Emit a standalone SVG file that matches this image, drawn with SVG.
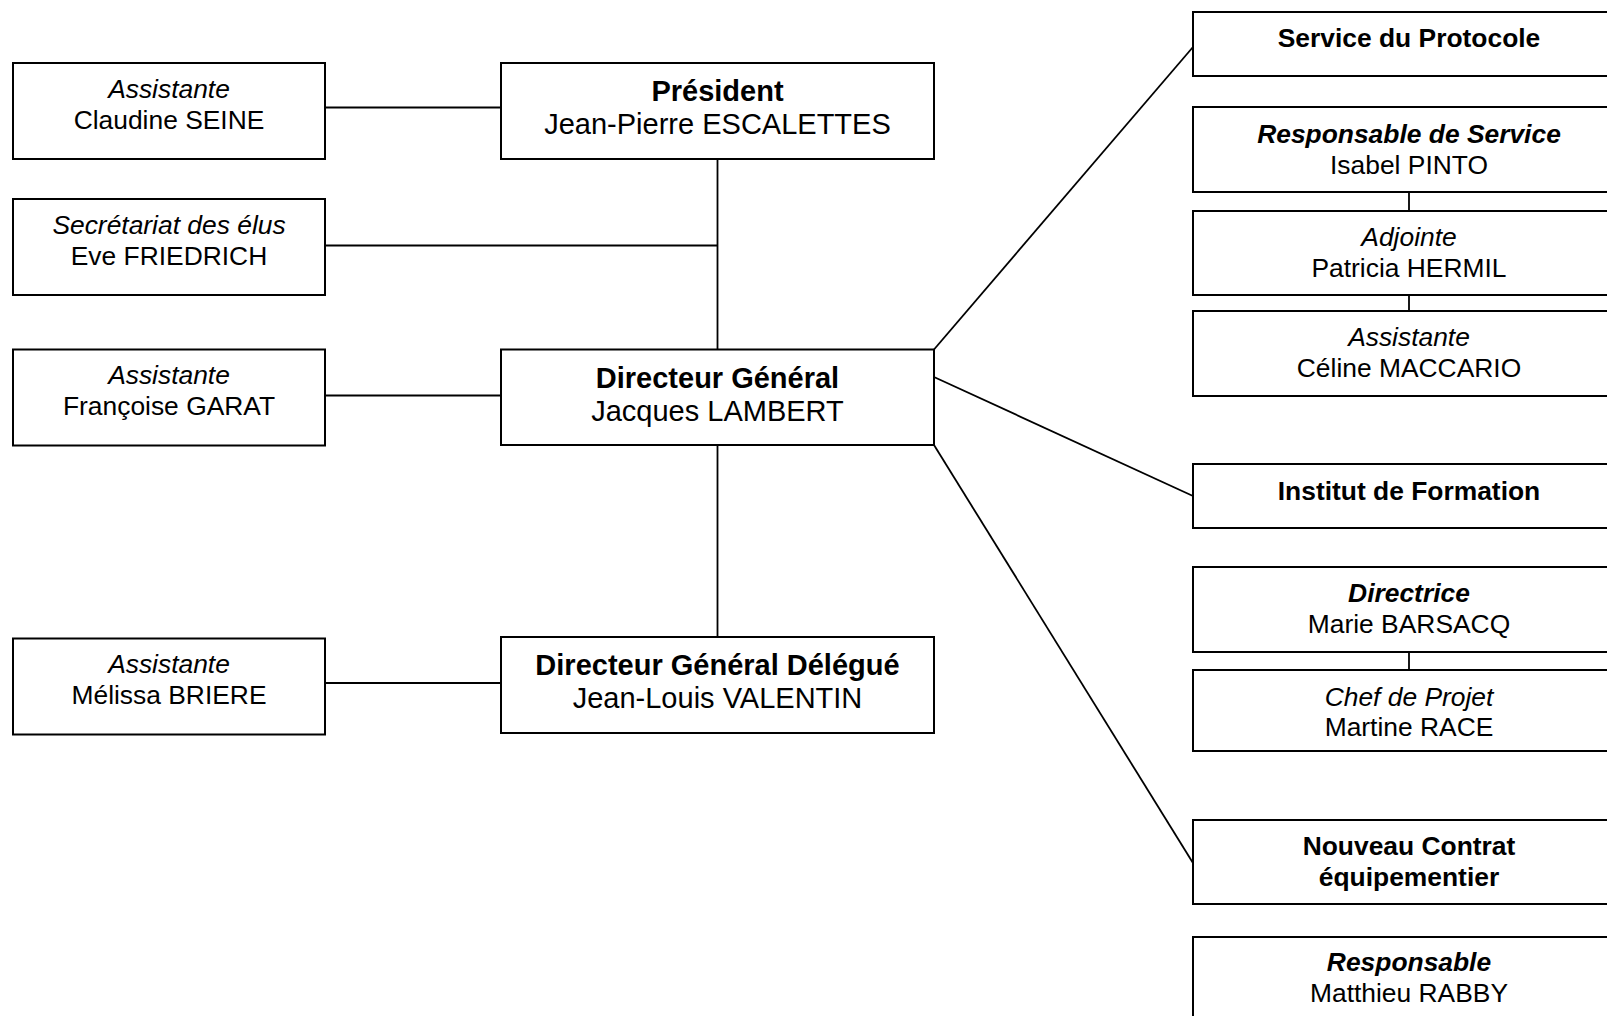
<svg xmlns="http://www.w3.org/2000/svg" width="1607" height="1016" viewBox="0 0 1607 1016">
<style>
.box{fill:#fff;stroke:#000;stroke-width:2}
.ln{stroke:#000;stroke-width:1.8;fill:none}
text{font-family:"Liberation Sans",Arial,sans-serif;fill:#000;text-anchor:middle}
.s{font-size:26.4px}
.c{font-size:29px}
.b{font-weight:bold}
.i{font-style:italic}
</style>
<rect width="1607" height="1016" fill="#fff"/>
<g id="connectors">
<line class="ln" x1="325" y1="107.5" x2="501" y2="107.5"/>
<line class="ln" x1="325" y1="245.5" x2="717.5" y2="245.5"/>
<line class="ln" x1="325" y1="395.5" x2="501" y2="395.5"/>
<line class="ln" x1="325" y1="683" x2="501" y2="683"/>
<line class="ln" x1="717.5" y1="159" x2="717.5" y2="349.5"/>
<line class="ln" x1="717.5" y1="445" x2="717.5" y2="637"/>
<line class="ln" x1="934" y1="349.5" x2="1193" y2="47"/>
<line class="ln" x1="934" y1="377" x2="1193" y2="496"/>
<line class="ln" x1="934" y1="445" x2="1193" y2="863"/>
<line class="ln" x1="1409" y1="192" x2="1409" y2="211"/>
<line class="ln" x1="1409" y1="295" x2="1409" y2="311"/>
<line class="ln" x1="1409" y1="652" x2="1409" y2="670"/>
</g>
<g id="n-assist-seine">
<rect class="box" x="13" y="63" width="312" height="96"/>
<text class="s i" x="169" y="97.5">Assistante</text>
<text class="s" x="169" y="129">Claudine SEINE</text>
</g>
<g id="n-secretariat">
<rect class="box" x="13" y="199" width="312" height="96"/>
<text class="s i" x="169" y="234">Secrétariat des élus</text>
<text class="s" x="169" y="265">Eve FRIEDRICH</text>
</g>
<g id="n-assist-garat">
<rect class="box" x="13" y="349.5" width="312" height="96"/>
<text class="s i" x="169" y="383.5">Assistante</text>
<text class="s" x="169" y="414.5">Françoise GARAT</text>
</g>
<g id="n-assist-briere">
<rect class="box" x="13" y="638.5" width="312" height="96"/>
<text class="s i" x="169" y="673">Assistante</text>
<text class="s" x="169" y="704">Mélissa BRIERE</text>
</g>
<g id="n-president">
<rect class="box" x="501" y="63" width="433" height="96"/>
<text class="c b" x="717.5" y="101">Président</text>
<text class="c" x="717.5" y="134">Jean-Pierre ESCALETTES</text>
</g>
<g id="n-dg">
<rect class="box" x="501" y="349.5" width="433" height="95.5"/>
<text class="c b" x="717.5" y="387.5">Directeur Général</text>
<text class="c" x="717.5" y="420.5">Jacques LAMBERT</text>
</g>
<g id="n-dgd">
<rect class="box" x="501" y="637" width="433" height="96"/>
<text class="c b" x="717.5" y="674.5">Directeur Général Délégué</text>
<text class="c" x="717.5" y="707.5">Jean-Louis VALENTIN</text>
</g>
<g id="n-protocole">
<rect class="box" x="1193" y="12" width="432" height="64"/>
<text class="s b" x="1409" y="46.5">Service du Protocole</text>
</g>
<g id="n-pinto">
<rect class="box" x="1193" y="107" width="432" height="85"/>
<text class="s b i" x="1409" y="143">Responsable de Service</text>
<text class="s" x="1409" y="173.5">Isabel PINTO</text>
</g>
<g id="n-hermil">
<rect class="box" x="1193" y="211" width="432" height="84"/>
<text class="s i" x="1409" y="246">Adjointe</text>
<text class="s" x="1409" y="276.5">Patricia HERMIL</text>
</g>
<g id="n-maccario">
<rect class="box" x="1193" y="311" width="432" height="85"/>
<text class="s i" x="1409" y="346">Assistante</text>
<text class="s" x="1409" y="376.5">Céline MACCARIO</text>
</g>
<g id="n-institut">
<rect class="box" x="1193" y="464" width="432" height="64"/>
<text class="s b" x="1409" y="499.5">Institut de Formation</text>
</g>
<g id="n-barsacq">
<rect class="box" x="1193" y="567" width="432" height="85"/>
<text class="s b i" x="1409" y="602">Directrice</text>
<text class="s" x="1409" y="633">Marie BARSACQ</text>
</g>
<g id="n-race">
<rect class="box" x="1193" y="670" width="432" height="81"/>
<text class="s i" x="1409" y="705.5">Chef de Projet</text>
<text class="s" x="1409" y="736">Martine RACE</text>
</g>
<g id="n-contrat">
<rect class="box" x="1193" y="820" width="432" height="84"/>
<text class="s b" x="1409" y="855">Nouveau Contrat</text>
<text class="s b" x="1409" y="885.5">équipementier</text>
</g>
<g id="n-rabby">
<rect class="box" x="1193" y="937" width="432" height="100"/>
<text class="s b i" x="1409" y="971">Responsable</text>
<text class="s" x="1409" y="1002">Matthieu RABBY</text>
</g>
</svg>
